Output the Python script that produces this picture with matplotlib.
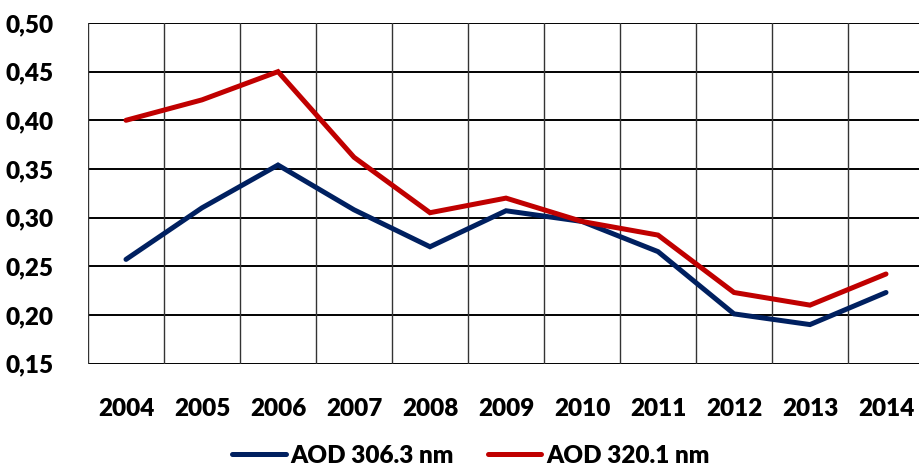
import matplotlib
matplotlib.use("Agg")
import matplotlib.pyplot as plt

years = ["2004", "2005", "2006", "2007", "2008", "2009", "2010", "2011", "2012", "2013", "2014"]
aod_306 = [0.257, 0.310, 0.354, 0.308, 0.270, 0.307, 0.296, 0.265, 0.201, 0.190, 0.223]
aod_320 = [0.400, 0.421, 0.450, 0.362, 0.305, 0.320, 0.296, 0.282, 0.223, 0.210, 0.242]
yticks = [0.15, 0.20, 0.25, 0.30, 0.35, 0.40, 0.45, 0.50]
ytick_labels = ["0,15", "0,20", "0,25", "0,30", "0,35", "0,40", "0,45", "0,50"]
series_names = ["AOD 306.3 nm", "AOD 320.1 nm"]

plt.rcParams['font.family'] = ['Lato', 'DejaVu Sans']
W, H = 920, 466
fig = plt.figure(figsize=(W / 100, H / 100), dpi=100)
left, right, top, bottom = 88, 924, 23, 363.5
ax = fig.add_axes([left / W, 1 - bottom / H, (right - left) / W, (bottom - top) / H])

x = list(range(len(years)))
l1, = ax.plot(x, aod_306, color="#002060", lw=3.6, solid_capstyle="round", solid_joinstyle="miter", zorder=3)
l2, = ax.plot(x, aod_320, color="#C00000", lw=3.6, solid_capstyle="round", solid_joinstyle="miter", zorder=3)

ax.set_xlim(-0.5, len(years) - 0.5)
ax.set_ylim(0.15, 0.50)
ax.set_yticks(yticks)
ax.set_yticklabels(ytick_labels)
ax.set_xticks(x)
ax.set_xticklabels(years)

for yv in yticks:
    ax.axhline(yv, color="black", lw=1.4, zorder=1)
for i in range(len(years) + 1):
    ax.axvline(i - 0.5, color="#333333", lw=1.0, zorder=1)

for s in ax.spines.values():
    s.set_visible(False)
ax.tick_params(axis="both", length=0, labelsize=17.5)
ax.tick_params(axis="y", pad=25)
ax.tick_params(axis="x", pad=25)
for lab in ax.get_xticklabels() + ax.get_yticklabels():
    lab.set_fontweight("heavy")

fig.legend([l1, l2], series_names, loc="center", bbox_to_anchor=(471 / W, 1 - 456 / H),
           ncol=2, frameon=False, prop={"weight": "heavy", "size": 17.5},
           handlelength=2.2, handletextpad=0.2, columnspacing=1.4, borderpad=0, borderaxespad=0)

fig.savefig("out.png", dpi=100)
